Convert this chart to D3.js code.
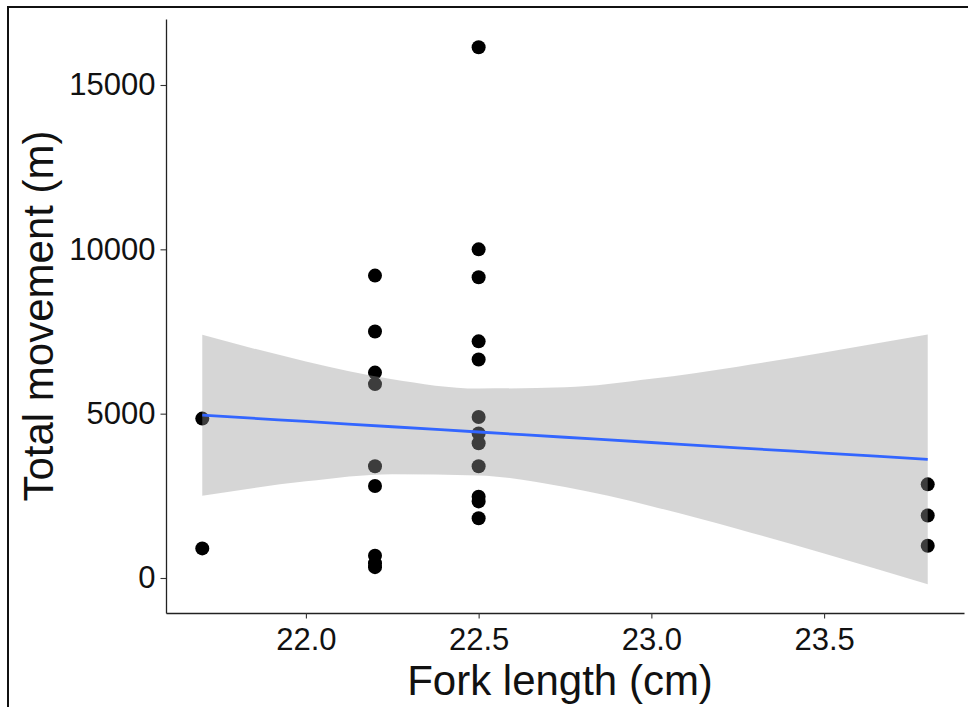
<!DOCTYPE html>
<html>
<head>
<meta charset="utf-8">
<script src="https://d3js.org/d3.v7.min.js"></script>
<style>
  body { margin: 0; background: #fff; }
  svg { display: block; font-family: "Liberation Sans", Arial, sans-serif; }
</style>
</head>
<body>
<svg id="chart" width="968" height="707"></svg>
<script>
// points: fork length (cm) vs total movement (m)
var forkLength = [21.7, 21.7,
  22.2, 22.2, 22.2, 22.2, 22.2, 22.2, 22.2, 22.2, 22.2,
  22.5, 22.5, 22.5, 22.5, 22.5, 22.5, 22.5, 22.5, 22.5, 22.5, 22.5, 22.5,
  23.8, 23.8, 23.8];
var movement = [4850, 900,
  9200, 7500, 6250, 5900, 3400, 2800, 680, 450, 330,
  16150, 10000, 9150, 7200, 6650, 4900, 4400, 4100, 3400, 2470, 2330, 1820,
  2850, 1900, 980];

// lm fit and 95% band
var bandX     = [21.7, 22.0, 22.25, 22.5, 22.75, 23.0, 23.25, 23.5, 23.8];
var fitY      = [4955, 4763, 4602, 4442, 4282, 4122, 3961, 3801, 3609];
var bandUpper = [7400, 6590, 6050, 5765, 5800, 6060, 6430, 6860, 7405];
var bandLower = [2505, 2940, 3155, 3120, 2765, 2185, 1490, 745, -190];

var xTicks = [22.0, 22.5, 23.0, 23.5];
var yTicks = [0, 5000, 10000, 15000];

var svg = d3.select("#chart");

// outer frame (cropped on right/bottom)
svg.append("rect")
    .attr("x", 8).attr("y", 7)
    .attr("width", 1000).attr("height", 800)
    .attr("fill", "none")
    .attr("stroke", "#111")
    .attr("stroke-width", 2);

var x = d3.scaleLinear().domain([21.595, 23.905]).range([166, 964]);
var y = d3.scaleLinear().domain([-1065, 17008]).range([613, 19]);

// points first, ribbon drawn over them like ggplot
svg.append("g")
  .selectAll("circle")
  .data(forkLength)
  .enter().append("circle")
    .attr("cx", function(d) { return x(d); })
    .attr("cy", function(d, i) { return y(movement[i]); })
    .attr("r", 7)
    .attr("fill", "#000");

var band = bandX.map(function(d, i) {
  return {x: d, lo: bandLower[i], hi: bandUpper[i], fit: fitY[i]};
});

var area = d3.area()
    .x(function(d) { return x(d.x); })
    .y0(function(d) { return y(d.lo); })
    .y1(function(d) { return y(d.hi); })
    .curve(d3.curveMonotoneX);

svg.append("path")
    .datum(band)
    .attr("d", area)
    .attr("fill", "#999999")
    .attr("fill-opacity", 0.4);

var line = d3.line()
    .x(function(d) { return x(d.x); })
    .y(function(d) { return y(d.fit); })
    .curve(d3.curveMonotoneX);

svg.append("path")
    .datum(band)
    .attr("d", line)
    .attr("fill", "none")
    .attr("stroke", "#3366FF")
    .attr("stroke-width", 2.8);

// axes
var gx = svg.append("g")
    .attr("transform", "translate(0,613)")
    .call(d3.axisBottom(x).tickValues(xTicks).tickFormat(d3.format(".1f"))
      .tickSize(5.5).tickPadding(9).tickSizeOuter(0));
var gy = svg.append("g")
    .attr("transform", "translate(166,0)")
    .call(d3.axisLeft(y).tickValues(yTicks).tickFormat(d3.format("d"))
      .tickSize(5.5).tickPadding(5).tickSizeOuter(0));

[gx, gy].forEach(function(g) {
  g.select(".domain").attr("stroke", "#222").attr("stroke-width", 1.3);
  g.selectAll(".tick line").attr("stroke", "#333").attr("stroke-width", 1.1);
  g.selectAll(".tick text")
      .attr("fill", "#111")
      .style("font-size", "31px")
      .style("font-family", "'Liberation Sans', Arial, sans-serif");
});

// axis titles
svg.append("text")
    .attr("x", 560).attr("y", 695)
    .attr("text-anchor", "middle")
    .attr("fill", "#111")
    .style("font-size", "42px")
    .text("Fork length (cm)");

svg.append("text")
    .attr("transform", "translate(53,316) rotate(-90)")
    .attr("text-anchor", "middle")
    .attr("fill", "#111")
    .style("font-size", "42px")
    .text("Total movement (m)");
</script>
</body>
</html>
